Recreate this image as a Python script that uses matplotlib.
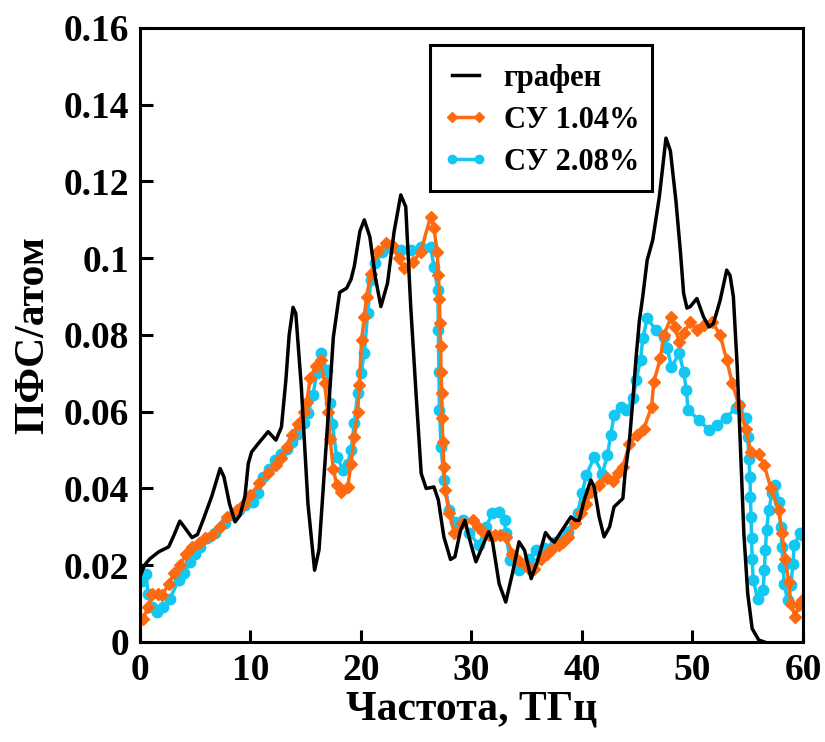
import matplotlib
matplotlib.use("Agg")
import matplotlib.pyplot as plt
from matplotlib.patches import Rectangle

# графен (black)
gr_x = [0.0, 0.4, 0.9, 1.7, 2.6, 3.1, 3.6, 4.0, 4.7, 5.2, 5.7, 6.5, 7.25, 7.6, 8.1, 8.6, 9.05,
        9.5, 9.8, 10.1, 10.7, 11.6, 12.3, 12.8, 13.2, 13.5, 13.85, 14.1, 14.6, 15.2, 15.8, 16.2,
        16.9, 17.5, 18.07, 18.7, 19.1, 19.4, 19.9, 20.3, 20.8, 21.3, 21.8, 22.4, 23.0, 23.6,
        24.05, 24.5, 25.0, 25.45, 25.9, 26.6, 27.0, 27.5, 28.1, 28.5, 29.0, 29.4, 29.9, 30.4,
        31.0, 31.55, 31.9, 32.5, 33.1, 33.7, 34.3, 34.8, 35.4, 36.0, 36.7, 37.1, 37.5, 38.4,
        39.0, 39.4, 39.75, 40.2, 40.8, 41.1, 41.55, 42.0, 42.5, 42.9, 43.7, 43.9, 44.3, 44.6,
        44.9, 45.2, 45.5, 45.9, 46.4, 47.0, 47.6, 48.0, 48.5, 48.9, 49.2, 49.5, 49.8, 50.4,
        51.0, 51.5, 51.9, 52.5, 53.1, 53.4, 53.7, 54.05, 54.35, 54.65, 55.0, 55.4, 56.0, 56.5]
gr_y = [0.017, 0.020, 0.0217, 0.0235, 0.0248, 0.028, 0.0315, 0.030, 0.0272, 0.028, 0.0317,
        0.038, 0.0452, 0.043, 0.036, 0.0313, 0.033, 0.038, 0.0465, 0.0495, 0.0517, 0.0548,
        0.0526, 0.056, 0.0682, 0.080, 0.0872, 0.0856, 0.0665, 0.036, 0.0187, 0.024, 0.0535,
        0.0795, 0.0911, 0.0922, 0.0945, 0.098, 0.107, 0.110, 0.1056, 0.095, 0.0874, 0.0935,
        0.107, 0.1165, 0.1134, 0.0874, 0.0639, 0.0439, 0.040, 0.0404, 0.037, 0.0274, 0.0215,
        0.0222, 0.029, 0.0317, 0.026, 0.0209, 0.025, 0.0287, 0.0262, 0.0152, 0.0104, 0.0178,
        0.0261, 0.0239, 0.0165, 0.0213, 0.0285, 0.027, 0.026, 0.030, 0.0326, 0.0317, 0.0317,
        0.037, 0.0422, 0.0404, 0.0326, 0.0274, 0.030, 0.0352, 0.0374, 0.0439, 0.0526, 0.063,
        0.0743, 0.0839, 0.090, 0.0995, 0.1047, 0.116, 0.1313, 0.128, 0.115, 0.102, 0.0908,
        0.087, 0.0874, 0.0895, 0.0847, 0.0821, 0.083, 0.089, 0.0969, 0.0955, 0.090, 0.0717,
        0.050, 0.0283, 0.0126, 0.0035, 0.0005, 0.0]

# СУ 1.04% (orange)
s1_x = [0.3, 0.7, 1.1, 1.6, 2.0, 2.6, 3.1, 3.6, 4.2, 4.7, 5.3, 5.9, 6.5, 7.2, 7.9, 8.8, 9.4,
        10.0, 10.8, 11.6, 12.3, 12.8, 13.3, 13.8, 14.3, 14.8, 15.1, 15.4, 15.9, 16.35, 16.7,
        17.0, 17.2, 17.5, 17.8, 18.2, 18.8, 19.1, 19.4, 19.7, 19.85, 20.05, 20.3, 20.5, 20.9,
        21.5, 22.3, 22.8, 23.4, 23.9, 24.7, 25.4, 26.3, 26.6, 26.9, 27.0, 27.1, 27.15, 27.2,
        27.25, 27.3, 27.35, 27.4, 27.5, 27.6, 28.0, 28.45, 29.1, 30.1, 30.6, 31.0, 31.6, 32.1,
        32.6, 33.1, 33.7, 34.3, 34.8, 35.2, 35.7, 36.3, 36.8, 37.2, 37.9, 38.3, 38.7, 39.4,
        39.9, 40.4, 40.8, 41.5, 42.3, 42.8, 43.3, 43.7, 44.3, 45.0, 45.6, 46.3, 46.5, 47.1,
        47.4, 48.1, 48.4, 48.8, 49.2, 49.8, 50.4, 51.0, 51.8, 52.5, 53.1, 53.6, 54.2, 54.8,
        55.3, 56.0, 56.5, 57.1, 57.8, 58.1, 58.4, 58.7, 58.9, 59.3, 59.6, 59.9]
s1_y = [0.006, 0.009, 0.0126, 0.0125, 0.0122, 0.0152, 0.018, 0.020, 0.023, 0.0248, 0.0257,
        0.027, 0.0278, 0.030, 0.0326, 0.0343, 0.036, 0.0383, 0.0413, 0.044, 0.046, 0.048,
        0.0509, 0.054, 0.0569, 0.060, 0.0626, 0.0687, 0.072, 0.0735, 0.0674, 0.060, 0.053,
        0.045, 0.041, 0.039, 0.0404, 0.0465, 0.0535, 0.060, 0.067, 0.0787, 0.0847, 0.090,
        0.096, 0.102, 0.1039, 0.1034, 0.100, 0.0974, 0.099, 0.1017, 0.1108, 0.1078, 0.1017,
        0.0956, 0.0895, 0.083, 0.077, 0.0704, 0.0648, 0.0583, 0.0522, 0.0456, 0.0396, 0.0335,
        0.0283, 0.0309, 0.0319, 0.030, 0.0287, 0.028, 0.0278, 0.028, 0.0274, 0.023, 0.021,
        0.0204, 0.019, 0.0189, 0.0217, 0.023, 0.0239, 0.0252, 0.026, 0.0274, 0.0309, 0.0335,
        0.036, 0.0391, 0.041, 0.0426, 0.042, 0.044, 0.0456, 0.0517, 0.054, 0.0556, 0.0613,
        0.0678, 0.0739, 0.080, 0.0847, 0.082, 0.0782, 0.0804, 0.0834, 0.0813, 0.0826, 0.0834,
        0.080, 0.0735, 0.0674, 0.0617, 0.0556, 0.0495, 0.0491, 0.046, 0.040, 0.0343, 0.0283,
        0.0217, 0.0156, 0.010, 0.0065, 0.0096, 0.011]

# СУ 2.08% (blue)
s2_x = [0.2, 0.5, 0.75, 1.1, 1.5, 2.1, 2.7, 3.5, 4.0, 4.55, 5.0, 5.45, 6.1, 6.8, 7.7, 8.4,
        9.0, 9.5, 10.2, 10.7, 11.1, 11.7, 12.2, 12.8, 13.3, 13.8, 14.3, 14.8, 15.2, 15.65,
        16.0, 16.35, 16.9, 17.2, 17.4, 17.8, 18.4, 18.8, 19.1, 19.4, 19.7, 20.0, 20.3, 20.6,
        20.9, 21.3, 21.9, 22.7, 23.6, 24.5, 25.4, 26.3, 26.6, 26.95, 27.0, 27.05, 27.1, 27.25,
        27.5, 28.0, 28.5, 29.2, 29.8, 30.7, 31.3, 31.9, 32.5, 33.0, 33.1, 33.5, 34.3, 35.2,
        35.8, 36.6, 37.6, 38.7, 39.6, 40.0, 40.4, 41.1, 41.85, 42.3, 42.6, 42.9, 43.5, 44.0,
        44.65, 44.9, 45.3, 45.5, 45.9, 46.7, 47.4, 47.7, 48.1, 48.8, 49.2, 49.45, 49.6, 50.6,
        51.5, 52.2, 53.0, 53.9, 54.2, 54.8, 55.0, 55.1, 55.2, 55.25, 55.3, 55.35, 55.4, 55.5,
        55.9, 56.4, 56.5, 56.6, 56.7, 56.9, 57.2, 57.5, 57.8, 58.0, 58.1, 58.2, 58.3, 58.6,
        58.9, 59.1, 59.2, 59.7, 59.9]
s2_y = [0.016, 0.0178, 0.0126, 0.009, 0.0078, 0.009, 0.0113, 0.0161, 0.018, 0.0209, 0.023,
        0.0248, 0.027, 0.0283, 0.0309, 0.033, 0.0343, 0.0356, 0.0365, 0.0387, 0.043, 0.045,
        0.0474, 0.049, 0.0504, 0.052, 0.0543, 0.057, 0.0596, 0.0643, 0.070, 0.0752, 0.0709,
        0.0622, 0.0569, 0.0482, 0.0448, 0.0465, 0.050, 0.057, 0.065, 0.070, 0.0752, 0.0856,
        0.0943, 0.0987, 0.1017, 0.1026, 0.1021, 0.1021, 0.103, 0.103, 0.0978, 0.0917, 0.0813,
        0.0704, 0.0604, 0.0509, 0.0422, 0.0343, 0.0313, 0.0317, 0.0283, 0.0252, 0.030, 0.0335,
        0.0339, 0.0317, 0.0283, 0.0213, 0.0187, 0.0217, 0.0239, 0.0244, 0.0261, 0.0287,
        0.0335, 0.0387, 0.0435, 0.0482, 0.0439, 0.0487, 0.0539, 0.0591, 0.0613, 0.0604,
        0.0635, 0.0682, 0.0735, 0.0791, 0.0843, 0.0813, 0.0795, 0.0765, 0.0717, 0.0752,
        0.0704, 0.0656, 0.0604, 0.0578, 0.0552, 0.0565, 0.0583, 0.0609, 0.0617, 0.0583,
        0.0535, 0.0478, 0.043, 0.0378, 0.0326, 0.027, 0.0217, 0.0161, 0.0113, 0.0135, 0.0187,
        0.0239, 0.0291, 0.0343, 0.0387, 0.0409, 0.0365, 0.030, 0.0248, 0.0196, 0.0152, 0.0109,
        0.0148, 0.0204, 0.0252, 0.0283, 0.028]

labels = ["графен", "СУ 1.04%", "СУ 2.08%"]
x_ticks = [0, 10, 20, 30, 40, 50, 60]
y_ticks = [0, 0.02, 0.04, 0.06, 0.08, 0.1, 0.12, 0.14, 0.16]

plt.rcParams['font.family'] = ['Liberation Serif', 'DejaVu Serif']
plt.rcParams['font.weight'] = 'bold'

fig = plt.figure(figsize=(8.25, 7.42), dpi=100)
ax = fig.add_axes([0.1697, 0.1348, 0.8036, 0.8275])

orange = '#FF6A10'
blue = '#12C8F2'
ax.plot(gr_x, gr_y, color='black', lw=2.5, label=labels[0], zorder=3,
        solid_joinstyle='round')
ax.plot(s1_x, s1_y, color=orange, lw=2.5, marker='D', ms=6, label=labels[1], zorder=2)
ax.plot(s2_x, s2_y, color=blue, lw=2.5, marker='o', ms=7.5, label=labels[2], zorder=1)

ax.set_xlim(0, 60)
ax.set_ylim(0, 0.16)
ax.set_xticks(x_ticks)
ax.set_yticks(y_ticks)
ax.set_yticklabels(["%g" % v for v in y_ticks])
ax.tick_params(direction='in', length=9, width=2.2, labelsize=27, pad=8)
for sp in ax.spines.values():
    sp.set_linewidth(2.2)

ax.set_xlabel("Частота, ТГц", fontsize=30, fontweight='bold', labelpad=2)
ax.set_ylabel("ПФС/атом", fontsize=30, fontweight='bold', labelpad=8)

ax.add_patch(Rectangle((0.437, 0.735), 0.335, 0.237, transform=ax.transAxes,
                       fill=False, edgecolor='black', lw=2.2, zorder=5))
ax.legend(loc='upper left', bbox_to_anchor=(0.424, 0.976), frameon=False,
          fontsize=22, handlelength=1.5, handletextpad=0.5, labelspacing=0.42,
          borderpad=0.2, numpoints=2, markerscale=0.8)

plt.savefig("out.png", dpi=100)
